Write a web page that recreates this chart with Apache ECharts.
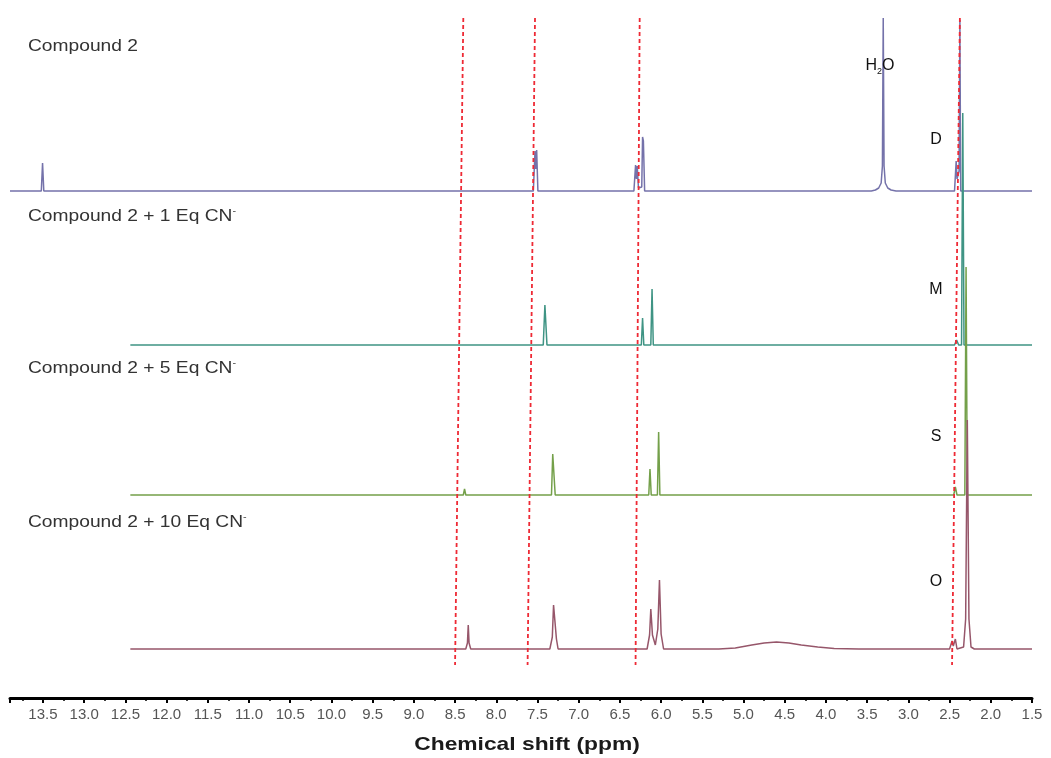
<!DOCTYPE html>
<html>
<head>
<meta charset="utf-8">
<style>
html,body{margin:0;padding:0;background:#fff;}
#chart{width:1051px;height:758px;}
</style>
<script src="https://cdn.jsdelivr.net/npm/echarts@6/dist/echarts.min.js"></script>
</head>
<body>
<div id="chart"></div>
<script>
// ---- Data: [ppm, intensity] points ----
const spectrumNames = ['Compound 2', 'Compound 2 + 1 Eq CN', 'Compound 2 + 5 Eq CN', 'Compound 2 + 10 Eq CN'];

const compound2 = [
  [13.9,0],[13.52,0],[13.505,28],[13.49,0],
  [7.55,0],[7.53,40],[7.52,22],[7.51,41],[7.495,0],
  [6.33,0],[6.31,26],[6.30,12],[6.29,25],[6.275,3],[6.235,4],[6.225,54],[6.215,50],[6.20,0],
  [3.45,0],[3.40,1],[3.36,3],[3.33,8],[3.315,25],[3.305,173],[3.295,25],[3.28,8],[3.25,3],[3.21,1],[3.15,0],
  [2.44,0],[2.42,30],[2.41,12],[2.385,20],[2.375,171],[2.365,0],
  [1.5,0]
];

const eq1 = [
  [12.44,0],
  [7.43,0],[7.41,40],[7.40,38],[7.385,0],
  [6.24,0],[6.225,27],[6.21,0],[6.125,0],[6.11,56],[6.095,0],
  [2.44,0],[2.415,5],[2.39,0],[2.355,0],[2.34,232],[2.325,0],
  [1.5,0]
];

const eq5 = [
  [12.44,0],
  [8.40,0],[8.385,6],[8.37,0],
  [7.33,0],[7.315,41],[7.30,40],[7.285,0],
  [6.15,0],[6.135,26],[6.12,0],[6.045,0],[6.03,63],[6.015,0],
  [2.45,0],[2.43,8],[2.41,0],[2.315,0],[2.30,228],[2.285,0],
  [1.5,0]
];

const eq10 = [
  [12.44,0],
  [8.37,0],[8.35,6],[8.34,24],[8.33,6],[8.31,0],
  [7.35,0],[7.32,12],[7.305,44],[7.29,42],[7.27,10],[7.25,0],
  [6.17,0],[6.14,14],[6.125,40],[6.105,14],[6.07,4],[6.04,20],[6.02,69],[6.00,15],[5.97,0],
  [5.3,0],[5.1,1],[4.9,4],[4.75,6],[4.6,7],[4.45,6],[4.3,4],[4.1,2],[3.9,0.5],[3.6,0],
  [2.5,0],[2.47,8],[2.455,3],[2.43,10],[2.41,0],[2.33,2],[2.305,30],[2.285,229],[2.265,30],[2.24,2],[2.2,0],
  [1.5,0]
];

// reference lines (top ppm, bottom ppm)
const refLines = [[8.40, 8.50], [7.53, 7.62], [6.26, 6.31], [2.375, 2.47]];

// peak labels
const peakLetters = ['D', 'M', 'S', 'O'];
const axisTitle = 'Chemical shift (ppm)';

// ---- Layout / style ----
const offsets = [507, 353, 203, 49];
const colors = ['#7472aa', '#3f9484', '#74a04a', '#96566a'];
const spectra = [compound2, eq1, eq5, eq10];

const series = spectra.map((s, i) => ({
  type: 'line',
  name: spectrumNames[i],
  data: s.map(p => [p[0], p[1] + offsets[i]]),
  showSymbol: false,
  symbol: 'none',
  lineStyle: { color: colors[i], width: 1.5 },
  z: 2
}));

refLines.forEach(r => {
  series.push({
    type: 'line',
    data: [[r[0], 680], [r[1], 33]],
    showSymbol: false,
    symbol: 'none',
    lineStyle: { color: '#ee2a35', width: 1.8, type: [4, 3] },
    z: 3
  });
});

const FONT = '"Liberation Sans", Arial, sans-serif';
const titleYs = [47, 217, 369, 523];
const graphics = [];
spectrumNames.forEach((n, i) => {
  const txt = i === 0 ? n : n + '{sup|-}';
  graphics.push({
    type: 'text', x: 28, y: titleYs[i], scaleX: 1.2, z: 10,
    style: {
      text: txt, fontSize: 16, fontFamily: FONT, fill: '#333',
      verticalAlign: 'middle', align: 'left', lineHeight: 20,
      rich: { sup: { fontSize: 9, fontFamily: FONT, fill: '#333', verticalAlign: 'top', lineHeight: 20 } }
    }
  });
});
// H2O label
graphics.push({
  type: 'text', x: 880, y: 66, z: 10,
  style: {
    text: 'H{sub|2}O', fontSize: 16, fontFamily: FONT, fill: '#111', align: 'center', verticalAlign: 'middle', lineHeight: 20,
    rich: { sub: { fontSize: 9, fontFamily: FONT, fill: '#111', verticalAlign: 'bottom', lineHeight: 20 } }
  }
});
const letterYs = [140, 290, 437, 582];
peakLetters.forEach((l, i) => {
  graphics.push({
    type: 'text', x: 936, y: letterYs[i], z: 10,
    style: { text: l, fontSize: 16, fontFamily: FONT, fill: '#111', align: 'center', verticalAlign: 'middle' }
  });
});
graphics.push({
  type: 'text', x: 527, y: 745, scaleX: 1.2, z: 10,
  style: { text: axisTitle, fontSize: 19, fontWeight: 'bold', fontFamily: FONT, fill: '#1a1a1a', align: 'center', verticalAlign: 'middle' }
});

const chart = echarts.init(document.getElementById('chart'));
chart.setOption({
  animation: false,
  backgroundColor: '#fff',
  grid: { left: 10, right: 19, top: 10, bottom: 60, containLabel: false },
  xAxis: {
    type: 'value', min: 1.5, max: 13.9, interval: 0.5, inverse: true,
    axisLine: { show: true, onZero: false, lineStyle: { color: '#000', width: 3 } },
    axisTick: { show: true, length: 5, lineStyle: { color: '#000', width: 2 } },
    minorTick: { show: true, splitNumber: 2, length: 3, lineStyle: { color: '#000', width: 1.5 } },
    splitLine: { show: false },
    axisLabel: {
      show: true, interval: 0, margin: 9, color: '#555', fontSize: 15, fontFamily: FONT,
      showMaxLabel: false, showMinLabel: true,
      formatter: v => (Math.abs(v * 2 - Math.round(v * 2)) < 1e-6 ? v.toFixed(1) : '')
    }
  },
  yAxis: { type: 'value', min: 0, max: 688, show: false, splitLine: { show: false } },
  graphic: graphics,
  series: series
});
</script>
</body>
</html>
